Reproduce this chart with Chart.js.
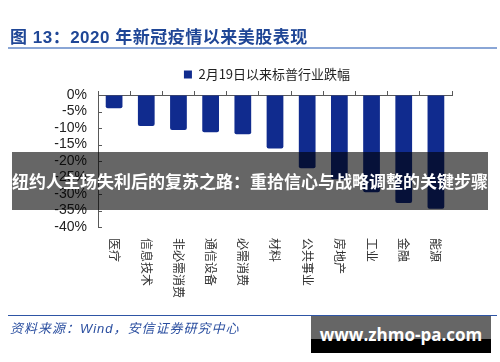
<!DOCTYPE html>
<html>
<head>
<meta charset="utf-8">
<script src="https://cdn.jsdelivr.net/npm/chart.js@4/dist/chart.umd.min.js"></script>
<style>
  body { margin: 0; background: #fff; }
  #wrap { position: relative; width: 500px; height: 362px; overflow: hidden; background: #fff; }
  #myChart { position: absolute; left: 0; top: 0; }
  .titulo { position: absolute; left: 10px; top: 23px; font: bold 17px "Liberation Sans", "Noto Sans CJK SC", sans-serif; color: #1F4696; letter-spacing: 0.5px; white-space: nowrap; }
  .linea1 { position: absolute; left: 8px; top: 47px; width: 489px; height: 2px; background: #8AA6D6; }
  .linea2 { position: absolute; left: 8px; top: 315px; width: 489px; height: 1px; background: #2E55A5; }
  .fuente { position: absolute; left: 10px; top: 318px; font: italic 13px "Liberation Sans", "Noto Sans CJK SC", sans-serif; color: #2B4FA0; letter-spacing: 1px; white-space: nowrap; }
  .banner { position: absolute; left: 12px; top: 152px; width: 476px; height: 58px; background: rgba(0,0,0,0.6); color: #fff; font: bold 17px "Noto Sans CJK SC", sans-serif; line-height: 58px; text-align: center; white-space: nowrap; }
  .marca { position: absolute; left: 311px; top: 316px; width: 180px; height: 37px; background: linear-gradient(to bottom, #666 0, #666 62%, #000 62%, #000 100%); color: #fff; font: bold 17px "Open Sans", "Liberation Sans", sans-serif; line-height: 37px; text-align: center; white-space: nowrap; }
</style>
</head>
<body>
<div id="wrap">
  <canvas id="myChart" width="500" height="362"></canvas>
  <div class="titulo">图 13：2020 年新冠疫情以来美股表现</div>
  <div class="linea1"></div>
  <div class="linea2"></div>
  <div class="fuente">资料来源：Wind，安信证券研究中心</div>
  <div class="banner">纽约人主场失利后的复苏之路：重拾信心与战略调整的关键步骤</div>
  <div class="marca">www.zhmo-pa.com</div>
</div>
<script>
// datos
const sectores = ["医疗", "信息技术", "非必需消费", "通信设备", "必需消费", "材料", "公共事业", "房地产", "工业", "金融", "能源"]
const caida = [-4.0, -9.4, -10.6, -11.3, -11.9, -16.2, -22.2, -25.5, -29.5, -32.7, -34.5]
const nombre_serie = "2月19日以来标普行业跌幅"
const y_min = -40
const y_max = 0
const y_paso = 5

const azul = "#102B8E"
const gris_eje = "#595959"

// etiquetas verticales + ticks hacia adentro
const extras = {
  id: "extras",
  afterLayout(chart) {
    // correr la leyenda a la derecha como en la imagen
    chart.legend.left += 41
    chart.legend.right += 41
  },
  afterDraw(chart) {
    const ctx = chart.ctx
    const x = chart.scales.x
    const y = chart.scales.y
    const area = chart.chartArea
    ctx.save()
    ctx.strokeStyle = gris_eje
    ctx.lineWidth = 1
    y.ticks.forEach((t) => {
      const py = Math.round(y.getPixelForValue(t.value)) + 0.5
      ctx.beginPath()
      ctx.moveTo(area.left, py)
      ctx.lineTo(area.left + 4, py)
      ctx.stroke()
    })
    ctx.fillStyle = "#333"
    ctx.font = '12px "Noto Sans CJK SC", sans-serif'
    ctx.textAlign = "left"
    ctx.textBaseline = "middle"
    sectores.forEach((s, i) => {
      const px = x.getPixelForValue(i)
      ctx.save()
      ctx.translate(px, area.bottom + 11)
      ctx.rotate(Math.PI / 2)
      ctx.fillText(s, 0, 0)
      ctx.restore()
    })
    ctx.restore()
  }
}

const config = {
  type: "bar",
  data: {
    labels: sectores,
    datasets: [{
      label: nombre_serie,
      data: caida,
      backgroundColor: azul,
      borderRadius: 2,
      barPercentage: 0.52,
      categoryPercentage: 1
    }]
  },
  options: {
    responsive: false,
    animation: false,
    layout: { padding: { top: 62, left: 0, right: 48, bottom: 135 } },
    plugins: {
      legend: {
        display: true,
        position: "top",
        labels: {
          boxWidth: 8,
          boxHeight: 8,
          padding: 6,
          color: "#222",
          font: { size: 13, family: '"Noto Sans CJK SC", sans-serif' }
        }
      },
      tooltip: { enabled: false }
    },
    scales: {
      x: {
        display: false,
        offset: true
      },
      xTop: {
        type: "category",
        position: "top",
        offset: true,
        ticks: { display: false },
        grid: { offset: true, drawOnChartArea: false, drawTicks: true, tickLength: 4, color: gris_eje },
        border: { display: true, color: gris_eje }
      },
      y: {
        min: y_min,
        max: y_max,
        afterFit(scale) { scale.width = 98 },
        ticks: {
          stepSize: y_paso,
          autoSkip: false,
          padding: 11,
          color: "#222",
          font: { size: 14, family: '"Liberation Sans", Arial, sans-serif' },
          callback: (v) => v + "%"
        },
        grid: { display: true, drawOnChartArea: false, drawTicks: false },
        border: { display: true, color: gris_eje }
      }
    }
  },
  plugins: [extras]
}

const myChart = document.getElementById("myChart")
const chart = new Chart(myChart, config)
</script>
</body>
</html>
